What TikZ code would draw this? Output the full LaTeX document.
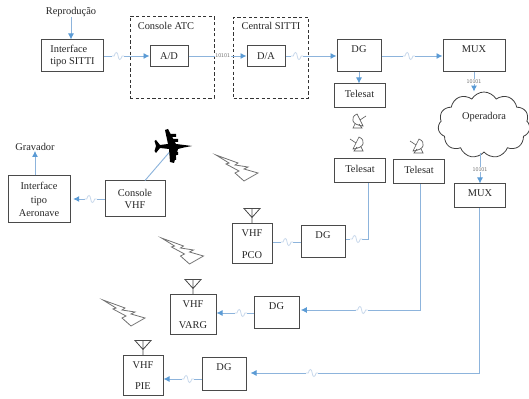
\documentclass[tikz,border=0pt]{standalone}
\usepackage{fontspec}
\setmainfont{Liberation Serif}
\usetikzlibrary{arrows.meta,shapes.symbols}
\definecolor{linkblue}{HTML}{8DB4DC}
\definecolor{tipblue}{HTML}{5B9BD5}
\definecolor{wavelight}{HTML}{C9D9EC}
\definecolor{boxgray}{HTML}{4A4A4A}
\tikzset{
  txt/.style={inner sep=0pt, align=center, font=\fontsize{7.8}{9}\selectfont, text=black!85},
  block/.style 2 args={txt, draw=boxgray, line width=.75pt,
    minimum width=#1*.75pt, minimum height=#2*.75pt},
  lifted/.style={text depth=#1*.75pt},
  dashbox/.style 2 args={draw=black!80, line width=.7pt, dash pattern=on 2.4pt off 1.8pt, inner sep=0pt,
    minimum width=#1*.75pt, minimum height=#2*.75pt},
  wire/.style={draw=linkblue, line width=.7pt},
  link/.style={wire, -{Latex[length=4.5pt,width=4.5pt,color=tipblue]}},
  bits/.style={fill=white, inner sep=.4pt, text=black!55, font=\sffamily\fontsize{4.2}{5}\selectfont},
  squig/.style={fill=white, inner sep=0pt, minimum width=9pt, minimum height=7pt,
    path picture={
      \draw[-, wavelight, line width=.6pt] (-4.5pt,0pt) -- (-3pt,0pt)
        .. controls (-2pt,3.5pt) and (-.4pt,3.5pt) .. (0pt,0pt)
        .. controls (.4pt,-3.5pt) and (2pt,-3.5pt) .. (3pt,0pt) -- (4.5pt,0pt);
    }},
  antenna/.pic={
    \draw[boxgray, line width=.6pt] (0,0) -- (0,-15) (-8,-15) -- (8,-15) -- (0,-6) -- cycle;
  },
  bolt/.pic={
    \draw[black!55, line width=.6pt] (0,0) -- (22,8) -- (19,10) -- (32,12) -- (28,14) -- (42,18)
      -- (28,26) -- (19,18) -- (23,16) -- (10,9) -- (13,8) -- cycle;
  },
  dish/.pic={
    \draw[black!65, line width=.5pt] (1,-7) .. controls (8,-4) and (7,4) .. (-5,5) -- cycle
      (-2,-1) -- (-8,-5)
      (-1,3) -- (-4,7) -- (5,7) -- (3,3);
  }
}
\begin{document}
\begin{tikzpicture}[x=.75pt,y=-.75pt]
  \useasboundingbox (0,0) rectangle (529,399);
  % Dashed groups
  \node[dashbox={84}{82}] (consoleatc) at (172,57) {};
  \node[dashbox={75}{81}] (centralsitti) at (271,57.5) {};
  \node[txt] (atctxt) at (166,26) {Console ATC};
  \node[txt] (centraltxt) at (271,26) {Central SITTI};
  % Upper chain
  \node[txt] (reproducao) at (71,12) {Reprodução};
  \node[block={62}{32}, align=left] (ifsitti) at (72.5,56) {Interface\\tipo SITTI};
  \node[block={38}{21}] (ad) at (169,56) {A/D};
  \node[block={38}{21}] (da) at (266,56) {D/A};
  \node[block={44}{32}, lifted=14] (dgtop) at (359,56) {DG};
  \node[block={62}{32}, lifted=14] (muxtop) at (474,56) {MUX};
  \node[block={51}{24}, lifted=4] (telesata) at (359.5,96) {Telesat};
  \node[block={51}{24}, lifted=4] (telesatb) at (360,171) {Telesat};
  \node[block={51}{24}, lifted=4] (telesatc) at (419,172) {Telesat};
  \node[cloud, draw=black!75, line width=.6pt, cloud puffs=11, cloud puff arc=120, aspect=1.4,
    minimum width=92*.75pt, minimum height=66*.75pt, inner sep=0pt, txt, lifted=18] (operadora) at (484,125) {Operadora};
  \node[block={51}{24}, lifted=6] (muxlow) at (480,196) {MUX};
  % Aircraft side
  \node[txt] (gravador) at (35,147) {Gravador};
  \node[block={62}{47}] (ifaero) at (39,199.5) {Interface\\[1pt]tipo\\[1pt]Aeronave};
  \node[block={60}{36}] (consolevhf) at (135,199) {Console\\VHF};
  % Ground stations
  \node[block={40}{40}] (vhfpco) at (252,244) {VHF\\[7pt]PCO};
  \node[block={44}{32}, lifted=14] (dgpco) at (323,242) {DG};
  \node[block={46}{40}] (vhfvarg) at (193,315) {VHF\\[7pt]VARG};
  \node[block={45}{32}, lifted=14] (dgvarg) at (276.5,313) {DG};
  \node[block={40}{39}] (vhfpie) at (143,375.5) {VHF\\[7pt]PIE};
  \node[block={44}{32}, lifted=14] (dgpie) at (224,374) {DG};
  % Elbows
  \coordinate (elba) at (368,239);
  \coordinate (elbb) at (420,310);
  \coordinate (elbc) at (479,373);
  \coordinate (planec) at (173,148);
  % Connectors
  \draw[link] (reproducao.south) -- (ifsitti.north -| reproducao.south);
  \draw[link] (ifsitti.east) -- node[squig, pos=.31] (wavea) {} (ad.west);
  \draw[link] (ad.east) -- node[bits, pos=.59] (bitsa) {10101} (da.west);
  \draw[link] (da.east) -- node[squig, pos=.23] (waveb) {} (dgtop.west);
  \draw[link] (dgtop.east) -- node[squig, pos=.45] (wavec) {} (muxtop.west);
  \draw[link] (dgtop.south) -- (telesata.north -| dgtop.south);
  \draw[link] (muxtop.south) -- node[bits, pos=.48] (bitsb) {10101} (muxtop.south |- operadora.north);
  \draw[link] (muxlow.north |- operadora.south) -- node[bits, pos=.55] (bitsc) {10101} (muxlow.north);
  \draw[wire] (telesatb.south -| elba) -- (elba) -- node[squig, pos=.52] (waved) {} (dgpco.east |- elba);
  \draw[link] (telesatc.south -| elbb) -- (elbb) -- node[squig, pos=.49] (wavee) {} ([xshift=1pt]dgvarg.east |- elbb);
  \draw[link] (muxlow.south -| elbc) -- (elbc) -- node[squig, pos=.73] (wavef) {} ([xshift=3pt]dgpie.east |- elbc);
  \draw[wire] (dgpco.west) -- node[squig, pos=.48] (waveg) {} (dgpco.west -| vhfpco.east);
  \draw[link] (dgvarg.west) -- node[squig, pos=.34] (waveh) {} (dgvarg.west -| vhfvarg.east);
  \draw[link] ([yshift=-3.75pt]dgpie.west) -- node[squig, pos=.36] (wavei) {} ([yshift=-3.75pt]dgpie.west -| vhfpie.east);
  \draw[link] (consolevhf.west) -- node[squig, pos=.44] (wavej) {} ([xshift=2pt]ifaero.east |- consolevhf.west);
  \draw[link] (ifaero.north -| gravador.south) -- (gravador.south);
  \draw[wire] ([xshift=7.5pt]consolevhf.north) -- (planec);
  % Aircraft
  \fill[black] (192,146) -- (180,144.5) -- (176,144) -- (168,129) -- (165,130) -- (168,144)
    -- (160,145) -- (156,140) -- (154.5,141) -- (156,146) -- (154.5,151) -- (156,153)
    -- (160,148) -- (169,149) -- (170,162) -- (174,163) -- (178,149) -- (184,147.5) -- cycle;
  \fill[black] (171,134) rectangle (176,137) (173,139) rectangle (178,142)
    (172,152) rectangle (178,155) (171,157) rectangle (176,160);
  % Radio links and dishes
  \foreach \point in {(216,155), (161.5,238), (103,300)}
    \path \point pic {bolt};
  \path (vhfpco.north) pic {antenna};
  \path (vhfvarg.north) pic {antenna};
  \path (vhfpie.north) pic {antenna};
  \path (358,121) pic[xscale=-1] {dish};
  \path (358,144) pic {dish};
  \path (418,146) pic {dish};
\end{tikzpicture}
\end{document}
